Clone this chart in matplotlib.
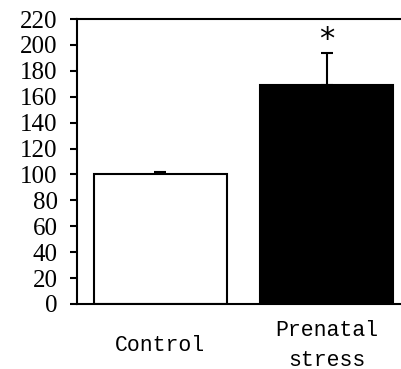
import matplotlib
matplotlib.use("Agg")
import matplotlib.pyplot as plt

categories = ["Control", "Prenatal\nstress"]
values = [100, 169]
errors_up = [2, 24.5]
colors = ["white", "black"]
yticks = list(range(0, 221, 20))

W, H = 401, 369
fig = plt.figure(figsize=(W / 100, H / 100), dpi=100)
ax = fig.add_axes([77 / W, 1 - 304 / H, (410 - 77) / W, (304 - 19) / H])

x = [0, 1]
ax.bar(x, values, width=0.8, color=colors, edgecolor="black", linewidth=1.5, zorder=2)
ax.errorbar(x, values, yerr=[[0, 0], errors_up], fmt="none", ecolor="black",
            elinewidth=1.5, capsize=4.5, capthick=1.5, zorder=1)
ax.text(1, values[1] + errors_up[1] + 11, "*", ha="center", va="center",
        fontsize=22, family="DejaVu Sans")

ax.set_xlim(-0.5, 1.5)
ax.set_ylim(0, 220)
ax.set_yticks(yticks)
ax.set_yticklabels([str(t) for t in yticks], family="Liberation Serif", fontsize=18)
ax.set_xticks(x)
ax.set_xticklabels(categories, family="Liberation Mono", fontsize=15.5,
                   va="center", linespacing=1.6)
ax.tick_params(axis="x", length=0, pad=30)
ax.tick_params(axis="y", length=5, width=1.5, direction="out", pad=9)
for s in ["left", "top", "bottom"]:
    ax.spines[s].set_linewidth(1.5)
ax.spines["right"].set_visible(False)

fig.savefig("out.png", dpi=100)
